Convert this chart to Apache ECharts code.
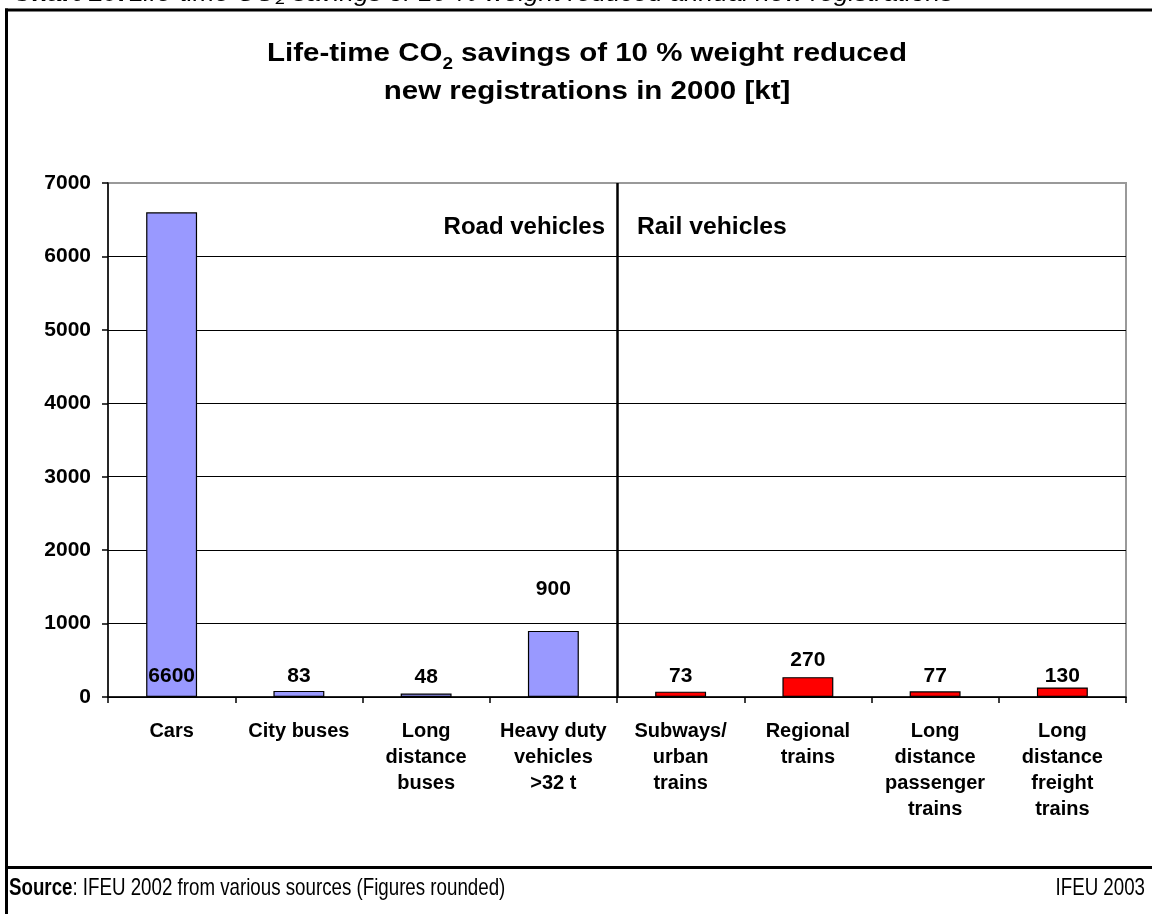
<!DOCTYPE html>
<html>
<head>
<meta charset="utf-8">
<script src="https://cdn.jsdelivr.net/npm/echarts@6/dist/echarts.min.js"></script>
<style>
  html, body { margin: 0; padding: 0; background: #fff; }
  #chart { width: 1152px; height: 914px; }
</style>
</head>
<body>
<div id="chart"></div>
<script>
// Life-time CO2 savings per vehicle type (kt)
const categories = [
  'Cars', 'City buses', 'Long\ndistance\nbuses', 'Heavy duty\nvehicles\n>32 t',
  'Subways/\nurban\ntrains', 'Regional\ntrains', 'Long\ndistance\npassenger\ntrains',
  'Long\ndistance\nfreight\ntrains'
];
const savings = [6600, 83, 48, 900, 73, 270, 77, 130];
const group = ['road', 'road', 'road', 'road', 'rail', 'rail', 'rail', 'rail'];
const yTicks = [0, 1000, 2000, 3000, 4000, 5000, 6000, 7000];
const sectionNames = ['Road vehicles', 'Rail vehicles'];

const FONT = '"Liberation Sans", Arial, Helvetica, sans-serif';
const groupColor = { road: '#9999FF', rail: '#FF0000' };
// label placement per bar
const labelPos = ['insideBottom', 'top', 'top', 'top', 'top', 'top', 'top', 'top'];
const labelDist = [10, 4, 6, 31, 4.5, 6, 4.5, 0.5];

const chart = echarts.init(document.getElementById('chart'), null, { renderer: 'canvas' });

const barData = savings.map((v, i) => ({
  value: v,
  itemStyle: { color: groupColor[group[i]] },
  label: { position: labelPos[i], distance: labelDist[i] }
}));

chart.setOption({
  backgroundColor: '#fff',
  animation: false,
  grid: {
    left: 108, right: 26, top: 183, bottom: 217,
    show: true, borderColor: '#999', borderWidth: 2, backgroundColor: 'transparent'
  },
  xAxis: [{
    type: 'category',
    data: categories,
    axisLine: { lineStyle: { color: '#000', width: 1.5 } },
    axisTick: { show: true, interval: 0, length: 6, lineStyle: { color: '#000', width: 1.5 } },
    axisLabel: {
      interval: 0, margin: 21, color: '#000',
      fontFamily: FONT, fontWeight: 'bold', fontSize: 20, lineHeight: 26
    }
  }, {
    type: 'value', min: 0, max: 8, show: false
  }],
  yAxis: {
    type: 'value',
    min: yTicks[0], max: yTicks[yTicks.length - 1], interval: 1000,
    axisLine: { show: true, lineStyle: { color: '#000', width: 1.5 } },
    axisTick: { show: true, length: 6, lineStyle: { color: '#000', width: 1.5 } },
    axisLabel: {
      margin: 17, color: '#000',
      fontFamily: FONT, fontWeight: 'bold', fontSize: 21,
      formatter: v => String(v)
    },
    splitLine: { show: true, showMaxLine: false, lineStyle: { color: '#000', width: 1.2 } }
  },
  series: [{
    type: 'bar',
    xAxisIndex: 0,
    data: barData,
    barWidth: '40%',
    itemStyle: { borderColor: '#000', borderWidth: 1.2 },
    label: {
      show: true, color: '#000',
      fontFamily: FONT, fontWeight: 'bold', fontSize: 21
    }
  }, {
    // divider between road and rail vehicles
    type: 'scatter',
    xAxisIndex: 1,
    data: [[4, 0]],
    symbolSize: 0,
    silent: true,
    markLine: {
      silent: true,
      symbol: 'none',
      label: { show: false },
      lineStyle: { color: '#000', width: 2.5, type: 'solid' },
      data: [{ xAxis: 4 }]
    }
  }]
});

const divX = chart.convertToPixel({ xAxisIndex: 1 }, 4);
const secY = chart.convertToPixel({ yAxisIndex: 0 }, 6390);

chart.setOption({
  graphic: [
    // caption line above the frame (partly cut off by the page edge)
    {
      type: 'text', x: 12, y: 6, scaleX: 1.09,
      style: {
        text: '{b|Chart 10:} {i|Life-time CO₂ savings of 10 % weight reduced annual new registrations}',
        verticalAlign: 'bottom',
        rich: {
          b: { fontFamily: FONT, fontWeight: 'bold', fontSize: 24, fill: '#000' },
          i: { fontFamily: FONT, fontStyle: 'italic', fontSize: 24, fill: '#000' }
        }
      }
    },
    // outer frame
    { type: 'line', shape: { x1: 5, y1: 10, x2: 1160, y2: 10 }, style: { stroke: '#000', lineWidth: 3 } },
    { type: 'line', shape: { x1: 6.5, y1: 8.5, x2: 6.5, y2: 914 }, style: { stroke: '#000', lineWidth: 3 } },
    { type: 'line', shape: { x1: 5, y1: 867.5, x2: 1160, y2: 867.5 }, style: { stroke: '#000', lineWidth: 3 } },
    // title
    {
      type: 'text', x: 587, y: 29, scaleX: 1.18,
      style: {
        text: '{t|Life-time CO}{s|2}{t| savings of 10 % weight reduced}\n{t|new registrations in 2000 [kt]}',
        align: 'center', verticalAlign: 'top',
        rich: {
          t: { fontFamily: FONT, fontWeight: 'bold', fontSize: 25, lineHeight: 38, fill: '#000', verticalAlign: 'bottom' },
          s: { fontFamily: FONT, fontWeight: 'bold', fontSize: 16, lineHeight: 38, fill: '#000', padding: [0, 0, -6, 0], verticalAlign: 'bottom' }
        }
      }
    },
    // section labels
    {
      type: 'text', x: divX - 12, y: secY,
      style: {
        text: sectionNames[0], align: 'right', verticalAlign: 'middle',
        fontFamily: FONT, fontWeight: 'bold', fontSize: 24, fill: '#000'
      }
    },
    {
      type: 'text', x: divX + 20, y: secY, scaleX: 1.03,
      style: {
        text: sectionNames[1], align: 'left', verticalAlign: 'middle',
        fontFamily: FONT, fontWeight: 'bold', fontSize: 24, fill: '#000'
      }
    },
    // footer
    {
      type: 'text', x: 9, y: 888, scaleX: 0.78,
      style: {
        text: '{b|Source}{r|: IFEU 2002 from various sources (Figures rounded)}',
        verticalAlign: 'middle',
        rich: {
          b: { fontFamily: FONT, fontWeight: 'bold', fontSize: 24, fill: '#000' },
          r: { fontFamily: FONT, fontSize: 24, fill: '#000' }
        }
      }
    },
    {
      type: 'text', x: 1145, y: 888, scaleX: 0.78,
      style: {
        text: 'IFEU 2003', align: 'right', verticalAlign: 'middle',
        fontFamily: FONT, fontSize: 24, fill: '#000'
      }
    }
  ]
});
</script>
</body>
</html>
